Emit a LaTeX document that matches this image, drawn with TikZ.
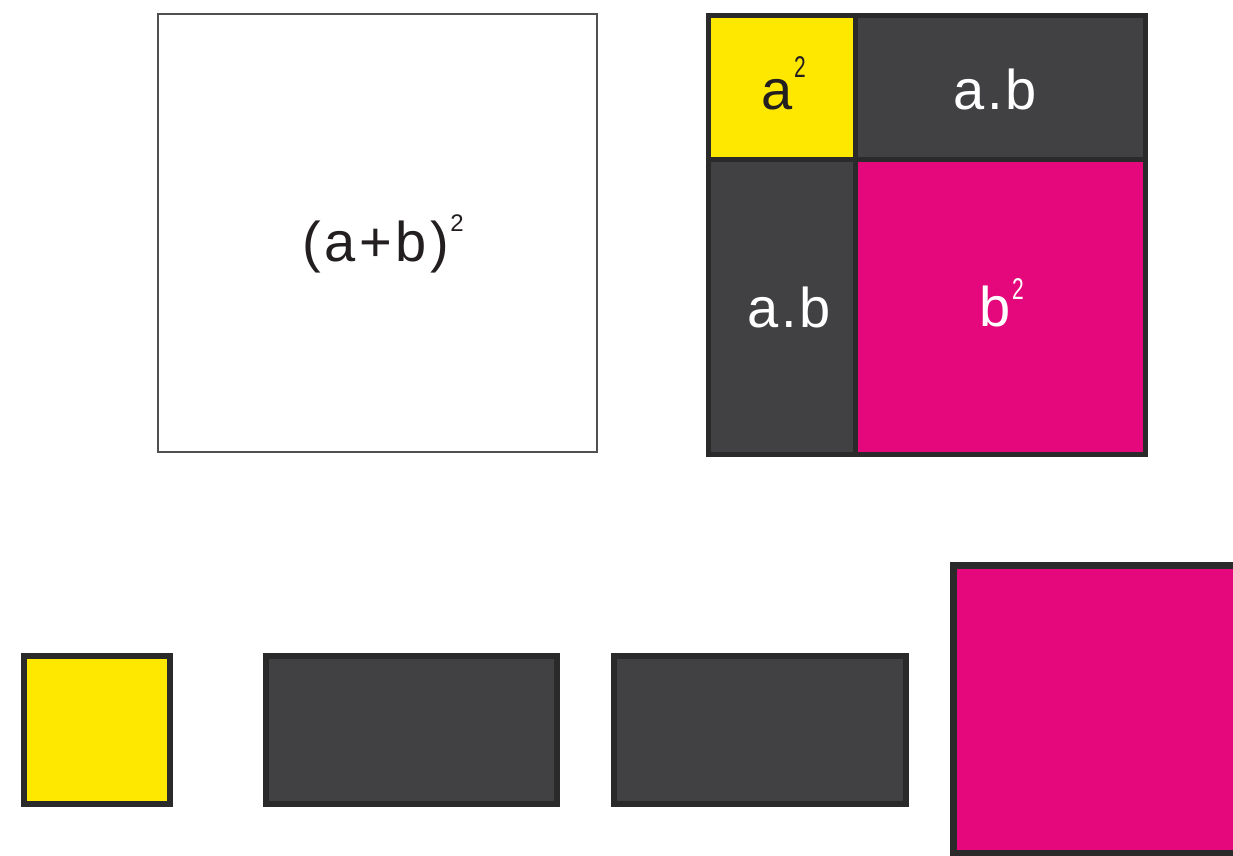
\documentclass[tikz,border=0pt]{standalone}
\usepackage{fontspec}
\setmainfont{Liberation Sans}
\definecolor{yel}{HTML}{FFE800}
\definecolor{dkfill}{HTML}{414042}
\definecolor{dkline}{HTML}{2B2A2B}
\definecolor{mag}{HTML}{E4087C}
\definecolor{txt}{HTML}{231F20}
\definecolor{frame}{HTML}{505050}
\tikzset{
  cell/.style={draw=dkline, line width=2.5pt},
  piece/.style={draw=dkline, line width=3pt},
  big/.style={inner sep=0pt, font=\fontsize{28}{32}\selectfont},
}
\newcommand{\supr}[2]{\raisebox{#1}{\scalebox{0.7}[1]{\fontsize{15}{16}\selectfont #2}}}
\newcommand{\ab}{a\kern1.3pt.\kern1.3pt b}
\begin{document}
\begin{tikzpicture}[x=0.5pt,y=-0.5pt]
\useasboundingbox (0,0) rectangle (1233,856);
\clip (0,0) rectangle (1233,856);
\fill[white] (0,0) rectangle (1233,856);
% big white square
\draw[frame, line width=1pt] (157.5,14) rectangle (597,452);
\node[big, text=txt, anchor=base west] (apb) at (302,262)
  {(\kern1.75pt a\kern1.75pt+\kern1.75pt b\kern1.75pt)\kern0.8pt\raisebox{15pt}{\fontsize{12}{14}\selectfont 2}};
% composite square
\draw[cell, fill=yel] (708.5,15.5) rectangle (855,160);
\draw[cell, fill=dkfill] (855,15.5) rectangle (1145.5,160);
\draw[cell, fill=dkfill] (708.5,160) rectangle (855,454);
\draw[cell, fill=mag] (855,160) rectangle (1145.5,454);
\node[big, text=txt, anchor=base west] (asq) at (761,110) {a\kern0.8pt\supr{16pt}{2}};
\node[big, text=white, anchor=base west] (abtop) at (953,110) {\ab};
\node[big, text=white, anchor=base west] (ableft) at (747,328) {\ab};
\node[big, text=white, anchor=base west] (bsq) at (979,327) {b\kern0.8pt\supr{13.5pt}{2}};
% separate pieces
\draw[piece, fill=yel] (24,656) rectangle (170,804);
\draw[piece, fill=dkfill] (266,656) rectangle (557,804);
\draw[piece, fill=dkfill] (614,656) rectangle (906,804);
\draw[draw=dkline, line width=3.5pt, fill=mag] (953.5,565) rectangle (1242,853.5);
\end{tikzpicture}
\end{document}
